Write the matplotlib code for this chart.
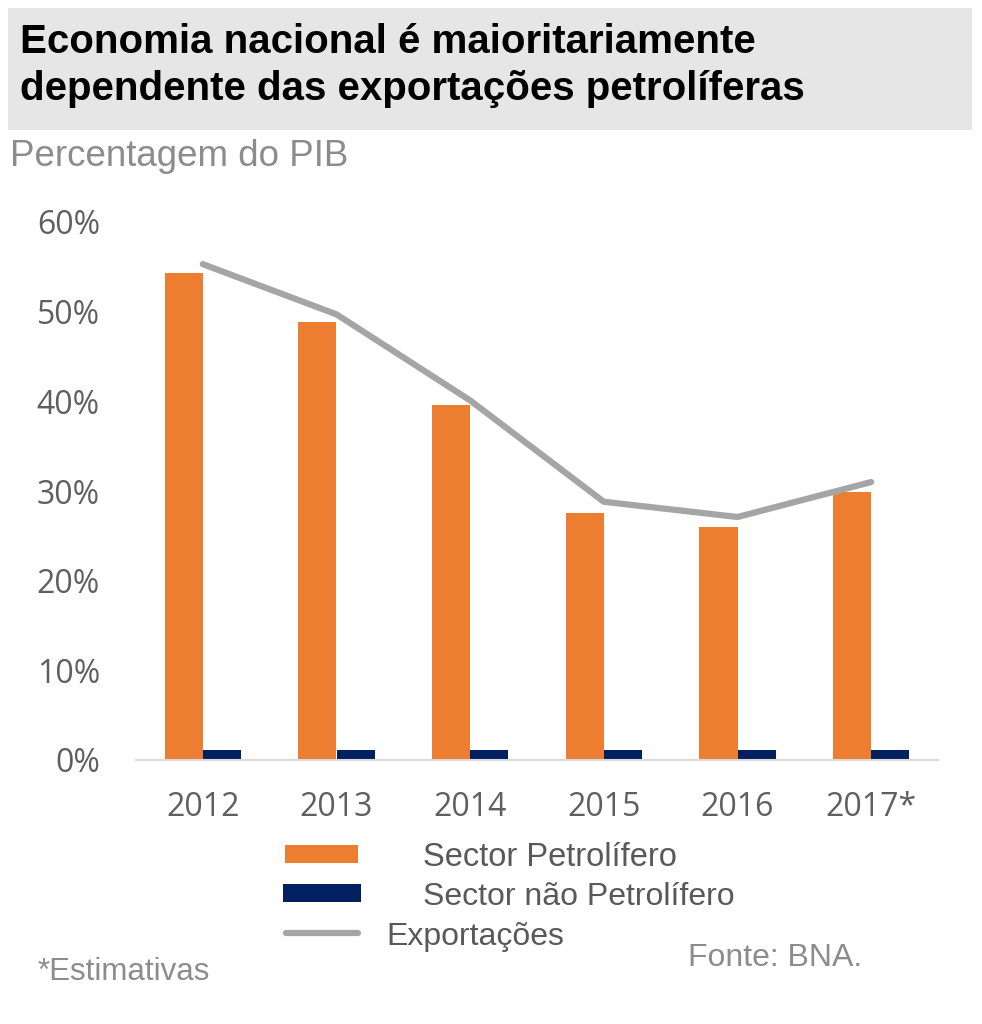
import matplotlib.pyplot as plt
from matplotlib.patches import Rectangle
from matplotlib.lines import Line2D
import numpy as np

# Dados (percentagem do PIB)
anos = ['2012', '2013', '2014', '2015', '2016', '2017*']
sector_petrolifero = [54.3, 48.9, 39.6, 27.5, 26.0, 29.9]
sector_nao_petrolifero = [1.1, 1.1, 1.1, 1.1, 1.1, 1.1]
exportacoes = [55.3, 49.7, 40.1, 28.8, 27.1, 31.0]
yticks = [0, 10, 20, 30, 40, 50, 60]

laranja = '#ED7D31'
azul = '#002060'
cinza = '#A5A5A5'
narrow = ['Liberation Sans Narrow', 'Liberation Sans', 'DejaVu Sans']

W, H = 982, 1024
fig = plt.figure(figsize=(W / 100, H / 100), dpi=100)

def fx(px):
    return px / W

def fy(py):
    return 1 - py / H

# Caixa do título
fig.patches.append(Rectangle((fx(8), fy(130)), fx(964), 122 / H, transform=fig.transFigure,
                             facecolor='#E6E6E6', edgecolor='none', zorder=0))
fig.text(fx(20), fy(42), 'Economia nacional é maioritariamente', fontsize=29, fontweight='bold',
         family=narrow, va='center', ha='left', color='black')
fig.text(fx(20), fy(89), 'dependente das exportações petrolíferas', fontsize=29, fontweight='bold',
         family=narrow, va='center', ha='left', color='black')
fig.text(fx(10), fy(157), 'Percentagem do PIB', fontsize=26.5, family=narrow,
         va='center', ha='left', color='#8C8C8C')

ax = fig.add_axes([fx(136), fy(760), fx(938 - 136), (760 - 222) / H])
x = np.arange(len(anos))
w = 0.285
ax.bar(x - w / 2, sector_petrolifero, w, color=laranja, zorder=2)
ax.bar(x + w / 2, sector_nao_petrolifero, w, color=azul, zorder=2)
ax.plot(x, exportacoes, color=cinza, lw=4.5, solid_capstyle='round', zorder=3)

ax.set_xlim(-0.5, len(anos) - 0.5)
ax.set_ylim(0, 60)
ax.set_yticks(yticks)
ax.set_yticklabels([f'{v}%' for v in yticks])
ax.set_xticks(x)
ax.set_xticklabels(anos)
for lab in ax.get_xticklabels() + ax.get_yticklabels():
    lab.set_family('Open Sans')
    lab.set_fontsize(23)
    lab.set_color('#5F5F5F')
ax.tick_params(length=0)
ax.tick_params(axis='y', pad=26)
ax.tick_params(axis='x', pad=22)
for s in ['top', 'right', 'left']:
    ax.spines[s].set_visible(False)
ax.spines['bottom'].set_color('#D9D9D9')
ax.spines['bottom'].set_linewidth(1.5)

# Legenda manual
fig.patches.append(Rectangle((fx(285), fy(863)), fx(73), 18 / H, transform=fig.transFigure,
                             facecolor=laranja, edgecolor='none'))
fig.patches.append(Rectangle((fx(283), fy(902)), fx(78), 18 / H, transform=fig.transFigure,
                             facecolor=azul, edgecolor='none'))
fig.lines.append(Line2D([fx(286), fx(358)], [fy(933), fy(933)], transform=fig.transFigure,
                        color=cinza, lw=4.5, solid_capstyle='round'))
fig.text(fx(423), fy(858), 'Sector Petrolífero', fontsize=23.5, family=narrow,
         va='center', ha='left', color='#595959')
fig.text(fx(423), fy(897), 'Sector não Petrolífero', fontsize=23, family=narrow,
         va='center', ha='left', color='#595959')
fig.text(fx(386), fy(937), 'Exportações', fontsize=23, family=narrow,
         va='center', ha='left', color='#595959')
fig.text(fx(688), fy(958), 'Fonte: BNA.', fontsize=23, family=narrow,
         va='center', ha='left', color='#8C8C8C')
fig.text(fx(38), fy(972), '*Estimativas', fontsize=22.5, family=narrow,
         va='center', ha='left', color='#8C8C8C')

fig.savefig('out.png', dpi=100, facecolor='white')
